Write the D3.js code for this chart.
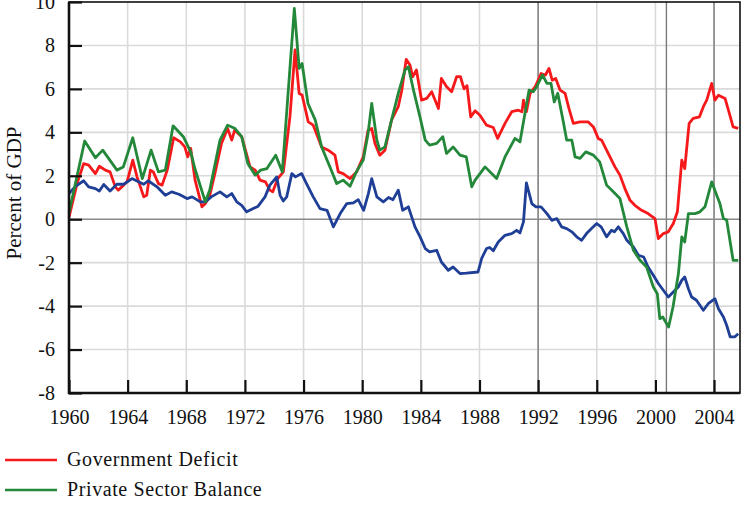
<!DOCTYPE html>
<html lang="en">
<head>
    <meta charset="UTF-8">
    <title>Sectoral Balances</title>
    <script src="https://d3js.org/d3.v7.min.js"></script>
    <style>
        body {
            margin: 0;
            padding: 0;
            background-color: white;
        }
        svg text {
            font-family: "Liberation Serif", "DejaVu Serif", serif;
            fill: #111;
        }
    </style>
</head>
<body>
    <div id="chart"></div>
    <script>
        const width = 750;
        const height = 507;
        const margin = {top: 2, right: 10, bottom: 114, left: 69};

        // [year, percent of GDP]
        const governmentDeficit = [
            [1960.0, 0.1], [1960.55, 1.64], [1961.0, 2.56], [1961.34, 2.49], [1961.8, 2.1], [1962.07, 2.44],
            [1962.48, 2.26], [1962.8, 2.18], [1963.16, 1.49], [1963.36, 1.34], [1963.73, 1.57], [1963.96, 1.72],
            [1964.35, 2.72], [1964.64, 1.95], [1965.1, 1.03], [1965.3, 1.1], [1965.55, 2.26], [1965.75, 2.18],
            [1966.1, 1.64], [1966.35, 1.57], [1966.7, 2.26], [1967.14, 3.75], [1967.6, 3.56], [1967.9, 3.33],
            [1968.1, 2.87], [1968.3, 3.26], [1968.6, 1.8], [1969.07, 0.57], [1969.3, 0.72], [1969.6, 1.1],
            [1969.95, 2.1], [1970.4, 3.49], [1970.82, 4.18], [1971.1, 3.64], [1971.3, 4.1], [1971.78, 3.8],
            [1972.35, 2.41], [1972.7, 2.26], [1973.03, 1.8], [1973.4, 1.72], [1973.7, 1.34], [1973.9, 1.26],
            [1974.24, 1.87], [1974.62, 2.18], [1975.07, 4.71], [1975.42, 7.79], [1975.7, 5.79], [1975.9, 5.72],
            [1976.32, 4.48], [1976.66, 4.33], [1977.23, 3.33], [1977.68, 3.18], [1978.14, 2.95], [1978.37, 2.18],
            [1978.7, 2.1], [1979.17, 1.87], [1979.62, 2.18], [1980.07, 2.87], [1980.4, 4.1], [1980.65, 4.18],
            [1980.87, 3.49], [1981.2, 2.95], [1981.55, 3.18], [1982.0, 4.56], [1982.46, 5.18], [1982.7, 5.94],
            [1983.0, 7.36], [1983.26, 7.1], [1983.44, 6.56], [1983.7, 6.87], [1984.05, 5.48], [1984.4, 5.56],
            [1984.74, 5.87], [1985.2, 5.1], [1985.4, 6.48], [1985.76, 6.1], [1986.1, 5.87], [1986.44, 6.56],
            [1986.7, 6.56], [1986.95, 6.0], [1987.15, 6.15], [1987.4, 4.71], [1987.7, 4.99], [1988.03, 4.79],
            [1988.48, 4.33], [1988.94, 4.22], [1989.24, 3.72], [1989.74, 4.41], [1990.2, 4.95], [1990.65, 5.02],
            [1990.9, 4.95], [1991.0, 5.48], [1991.2, 4.95], [1991.45, 5.79], [1991.8, 6.1], [1992.2, 6.71],
            [1992.5, 6.64], [1992.74, 6.94], [1992.96, 6.4], [1993.2, 6.48], [1993.5, 5.94], [1993.84, 5.79],
            [1994.1, 5.1], [1994.4, 4.41], [1994.86, 4.48], [1995.42, 4.48], [1995.77, 4.25], [1996.1, 3.72],
            [1996.33, 3.64], [1996.67, 3.18], [1997.24, 2.41], [1997.58, 2.03], [1997.92, 1.41], [1998.27, 0.87],
            [1998.6, 0.64], [1999.06, 0.41], [1999.5, 0.26], [1999.97, 0.03], [2000.2, -0.89], [2000.54, -0.66],
            [2000.88, -0.58], [2001.22, -0.2], [2001.5, 0.34], [2001.8, 2.72], [2002.0, 2.33], [2002.3, 4.41],
            [2002.58, 4.64], [2003.0, 4.71], [2003.27, 5.18], [2003.5, 5.48], [2003.84, 6.25], [2004.06, 5.48],
            [2004.3, 5.71], [2004.75, 5.56], [2004.98, 5.02], [2005.3, 4.25], [2005.65, 4.18]
        ];

        const privateBalance = [
            [1960.0, 0.3], [1961.07, 3.6], [1961.8, 2.83], [1962.3, 3.18], [1963.27, 2.26], [1963.7, 2.4],
            [1964.35, 3.75], [1965.0, 1.87], [1965.6, 3.18], [1966.1, 2.18], [1966.57, 2.26], [1967.1, 4.3],
            [1967.8, 3.8], [1968.3, 3.1], [1968.6, 2.3], [1969.3, 0.8], [1969.6, 1.34], [1970.3, 3.64],
            [1970.82, 4.33], [1971.3, 4.19], [1971.78, 3.8], [1972.2, 2.56], [1972.7, 2.03], [1973.07, 2.26],
            [1973.5, 2.33], [1974.1, 2.95], [1974.55, 2.18], [1975.37, 9.7], [1975.7, 6.94], [1975.9, 7.17],
            [1976.3, 5.33], [1976.8, 4.56], [1977.23, 3.33], [1977.8, 2.4], [1978.26, 1.64], [1978.7, 1.8],
            [1979.17, 1.52], [1979.6, 2.18], [1980.07, 2.72], [1980.4, 3.95], [1980.65, 5.33], [1981.0, 3.64],
            [1981.2, 3.18], [1981.55, 3.33], [1982.0, 4.56], [1982.46, 5.79], [1982.92, 6.87], [1983.15, 7.02],
            [1983.5, 5.94], [1983.94, 4.71], [1984.3, 3.64], [1984.6, 3.41], [1985.08, 3.49], [1985.5, 3.8],
            [1985.75, 3.03], [1986.2, 3.33], [1986.67, 2.95], [1987.1, 2.87], [1987.47, 1.49], [1987.7, 1.8],
            [1988.38, 2.41], [1989.17, 1.87], [1989.74, 2.87], [1990.42, 3.72], [1990.76, 3.56], [1991.1, 4.87],
            [1991.38, 5.94], [1991.67, 5.87], [1991.9, 6.1], [1992.3, 6.64], [1992.6, 6.25], [1992.88, 6.25],
            [1993.1, 5.4], [1993.34, 5.8], [1993.72, 4.48], [1993.95, 3.64], [1994.3, 3.64], [1994.52, 2.87],
            [1994.86, 2.8], [1995.25, 3.1], [1995.77, 2.95], [1996.2, 2.64], [1996.67, 1.57], [1997.13, 1.26],
            [1997.58, 0.95], [1998.05, -0.35], [1998.5, -1.43], [1998.95, -1.89], [1999.4, -2.2], [1999.86, -3.12],
            [2000.13, -3.43], [2000.3, -4.58], [2000.5, -4.5], [2000.9, -4.96], [2001.2, -4.04], [2001.57, -2.5],
            [2001.8, -0.81], [2002.0, -1.05], [2002.25, 0.26], [2002.7, 0.26], [2003.04, 0.34], [2003.38, 0.57],
            [2003.84, 1.72], [2004.18, 1.1], [2004.4, 0.72], [2004.64, 0.03], [2004.86, -0.04], [2005.3, -1.89],
            [2005.65, -1.89]
        ];

        const foreignBalance = [
            [1960.0, 1.18], [1960.4, 1.49], [1961.0, 1.77], [1961.34, 1.49], [1961.8, 1.41], [1962.07, 1.3],
            [1962.37, 1.6], [1962.8, 1.3], [1963.27, 1.61], [1963.73, 1.61], [1964.3, 1.87], [1964.6, 1.77],
            [1965.1, 1.61], [1965.4, 1.77], [1966.0, 1.49], [1966.57, 1.1], [1967.0, 1.26], [1967.5, 1.15],
            [1968.05, 0.95], [1968.4, 1.03], [1968.96, 0.8], [1969.3, 0.8], [1969.7, 1.03], [1970.3, 1.26],
            [1970.76, 1.03], [1971.1, 1.18], [1971.44, 0.8], [1971.78, 0.64], [1972.12, 0.34], [1972.57, 0.49],
            [1972.9, 0.6], [1973.37, 1.03], [1973.7, 1.57], [1974.17, 1.95], [1974.4, 1.1], [1974.62, 0.84],
            [1974.85, 1.03], [1975.2, 2.1], [1975.45, 1.95], [1975.87, 2.1], [1976.2, 1.64], [1976.66, 1.03],
            [1977.12, 0.49], [1977.6, 0.41], [1978.03, -0.35], [1978.5, 0.26], [1978.95, 0.72], [1979.4, 0.75],
            [1979.73, 0.9], [1980.1, 0.41], [1980.42, 1.18], [1980.65, 1.87], [1981.0, 1.03], [1981.44, 0.8],
            [1981.8, 1.0], [1982.1, 0.9], [1982.46, 1.34], [1982.76, 0.41], [1983.15, 0.57], [1983.6, -0.35],
            [1983.95, -0.81], [1984.3, -1.35], [1984.6, -1.5], [1985.08, -1.43], [1985.4, -1.97], [1985.87, -2.35],
            [1986.2, -2.2], [1986.67, -2.5], [1987.1, -2.48], [1987.9, -2.43], [1988.15, -1.8], [1988.48, -1.35],
            [1988.7, -1.3], [1988.94, -1.45], [1989.28, -1.05], [1989.74, -0.74], [1990.2, -0.66], [1990.53, -0.51],
            [1990.76, -0.63], [1991.0, -0.12], [1991.2, 1.67], [1991.57, 0.72], [1991.85, 0.57], [1992.2, 0.57],
            [1992.6, 0.26], [1992.93, -0.05], [1993.27, 0.03], [1993.6, -0.35], [1993.95, -0.43], [1994.3, -0.58],
            [1994.63, -0.81], [1994.97, -0.97], [1995.3, -0.66], [1995.64, -0.43], [1996.0, -0.2], [1996.3, -0.35],
            [1996.67, -0.81], [1997.0, -0.51], [1997.2, -0.58], [1997.47, -0.35], [1997.81, -0.66], [1998.05, -0.97],
            [1998.5, -1.28], [1998.84, -1.66], [1999.2, -1.74], [1999.5, -2.2], [1999.86, -2.58], [2000.2, -2.96],
            [2000.54, -3.27], [2000.88, -3.58], [2001.22, -3.35], [2001.56, -3.12], [2001.8, -2.81], [2002.0, -2.66],
            [2002.25, -3.2], [2002.47, -3.58], [2002.8, -3.73], [2003.27, -4.19], [2003.6, -3.89], [2004.06, -3.66],
            [2004.3, -4.12], [2004.64, -4.5], [2004.86, -4.88], [2005.1, -5.42], [2005.4, -5.42], [2005.65, -5.27]
        ];

        const xTicks = [1960, 1964, 1968, 1972, 1976, 1980, 1984, 1988, 1992, 1996, 2000, 2004];
        const yTicks = [-8, -6, -4, -2, 0, 2, 4, 6, 8, 10];
        const markerYears = [1992, 2000.75, 2004];

        const series = [
            {name: "Government Deficit", color: "#f5191c", values: governmentDeficit, legend: true},
            {name: "Current Account", color: "#1f3f96", values: foreignBalance, legend: false},
            {name: "Private Sector Balance", color: "#24883a", values: privateBalance, legend: true}
        ];

        const x = d3.scaleLinear()
            .domain([1960, 2005.77])
            .range([margin.left, width - margin.right]);
        const y = d3.scaleLinear()
            .domain([-8, 10])
            .range([height - margin.bottom, margin.top]);

        const svg = d3.select("#chart")
            .append("svg")
            .attr("width", width)
            .attr("height", height);

        // grid
        const grid = svg.append("g");
        grid.selectAll(".gx")
            .data(xTicks.slice(1))
            .join("line")
            .attr("x1", d => x(d)).attr("x2", d => x(d))
            .attr("y1", y(10)).attr("y2", y(-8))
            .attr("stroke", "#dadada")
            .attr("stroke-width", 1.6);
        grid.selectAll(".gy")
            .data(yTicks.filter(d => d !== 0 && d !== -8 && d !== 10))
            .join("line")
            .attr("x1", x.range()[0]).attr("x2", x.range()[1])
            .attr("y1", d => y(d)).attr("y2", d => y(d))
            .attr("stroke", "#dadada")
            .attr("stroke-width", 1.6);

        // darker verticals and the zero line
        grid.selectAll(".mk")
            .data(markerYears)
            .join("line")
            .attr("x1", d => x(d)).attr("x2", d => x(d))
            .attr("y1", y(10)).attr("y2", y(-8))
            .attr("stroke", "#7a7a7a")
            .attr("stroke-width", 1.4);
        grid.append("line")
            .attr("x1", x.range()[0]).attr("x2", x.range()[1])
            .attr("y1", y(0)).attr("y2", y(0))
            .attr("stroke", "#8a8a8a")
            .attr("stroke-width", 1.6);

        // lines
        const line = d3.line()
            .x(d => x(d[0]))
            .y(d => y(d[1]));

        svg.append("g")
            .selectAll("path")
            .data(series)
            .join("path")
            .attr("d", d => line(d.values))
            .attr("fill", "none")
            .attr("stroke", d => d.color)
            .attr("stroke-width", 2.8)
            .attr("stroke-linejoin", "round");

        // frame
        svg.append("rect")
            .attr("x", x.range()[0]).attr("y", y(10))
            .attr("width", x.range()[1] - x.range()[0])
            .attr("height", y(-8) - y(10))
            .attr("fill", "none")
            .attr("stroke", "#111")
            .attr("stroke-width", 1.6);
        svg.append("line")
            .attr("x1", x.range()[0]).attr("x2", x.range()[0])
            .attr("y1", y(10)).attr("y2", y(-8) + 1)
            .attr("stroke", "#111").attr("stroke-width", 2.6);
        svg.append("line")
            .attr("x1", x.range()[0] - 1).attr("x2", x.range()[1])
            .attr("y1", y(-8)).attr("y2", y(-8))
            .attr("stroke", "#111").attr("stroke-width", 2.6);

        // axes (ticks pointing inward)
        const xAxis = d3.axisBottom(x)
            .tickValues(xTicks)
            .tickFormat(d3.format("d"))
            .tickSize(-13)
            .tickPadding(17);
        svg.append("g")
            .attr("transform", `translate(0,${y(-8)})`)
            .call(xAxis)
            .call(g => g.select(".domain").remove())
            .call(g => g.selectAll("line").attr("stroke", "#111").attr("stroke-width", 2.2))
            .call(g => g.selectAll("text").style("font-size", "20px").attr("fill", "#111"));

        const yAxis = d3.axisLeft(y)
            .tickValues(yTicks)
            .tickFormat(d => String(d))
            .tickSize(-13)
            .tickPadding(14);
        svg.append("g")
            .attr("transform", `translate(${x(1960)},0)`)
            .call(yAxis)
            .call(g => g.select(".domain").remove())
            .call(g => g.selectAll("line").attr("stroke", "#111").attr("stroke-width", 2.2))
            .call(g => g.selectAll("text").style("font-size", "20px").attr("fill", "#111"));

        svg.append("text")
            .attr("transform", `translate(21,${193}) rotate(-90)`)
            .attr("text-anchor", "middle")
            .style("font-size", "21px")
            .text("Percent of GDP");

        // legend
        const legend = svg.append("g")
            .selectAll("g")
            .data(series.filter(d => d.legend))
            .join("g")
            .attr("transform", (d, i) => `translate(0,${460 + i * 30})`);
        legend.append("line")
            .attr("x1", 5).attr("x2", 57)
            .attr("stroke", d => d.color)
            .attr("stroke-width", 2.4);
        legend.append("text")
            .attr("x", 67)
            .attr("y", 6)
            .style("font-size", "20px")
            .style("letter-spacing", "0.6px")
            .text(d => d.name);
    </script>
</body>
</html>
